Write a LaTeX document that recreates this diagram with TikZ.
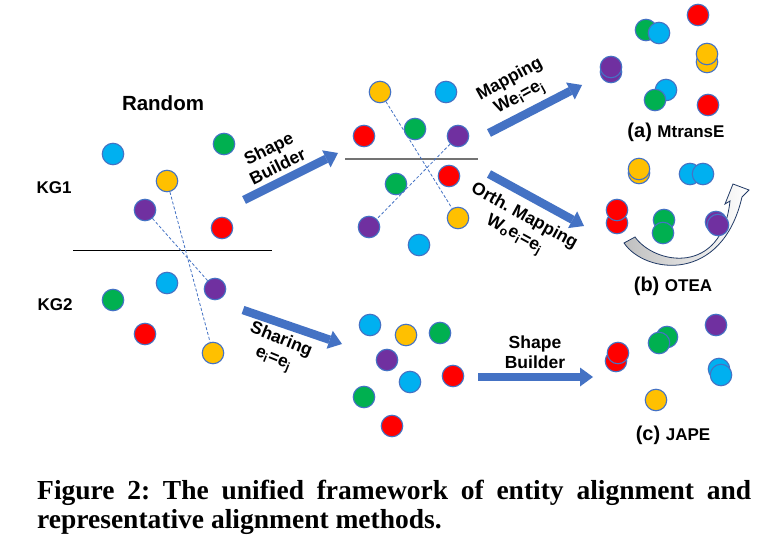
\documentclass[tikz,border=0pt]{standalone}
\usepackage{fontspec}
\setmainfont{Liberation Sans}
\newfontfamily\capfont{Liberation Serif}
\usetikzlibrary{arrows.meta}
\definecolor{cb}{HTML}{00B0F0}
\definecolor{cg}{HTML}{00B050}
\definecolor{cy}{HTML}{FFC000}
\definecolor{cp}{HTML}{7030A0}
\definecolor{cr}{HTML}{FF0000}
\definecolor{edgeblue}{HTML}{4472C4}
\definecolor{arrowblue}{HTML}{4472C4}
\definecolor{navy}{HTML}{1F3864}
\tikzset{
  ent/.style={circle, minimum size=21.5pt, inner sep=0pt, draw=edgeblue, line width=1.1pt},
  eb/.style={ent, fill=cb}, eg/.style={ent, fill=cg}, ey/.style={ent, fill=cy},
  ep/.style={ent, fill=cp}, er/.style={ent, fill=cr},
  link/.style={dashed, draw=edgeblue, line width=0.8pt, dash pattern=on 3pt off 2pt},
  fat/.style={line width=8.5pt, draw=arrowblue, -{Triangle[length=13pt,width=19pt,line width=0pt]}},
  lbl/.style={font=\fontsize{17.5}{20}\selectfont\bfseries, align=center, inner sep=0pt},
  grp/.style={font=\fontsize{17}{19}\selectfont\bfseries, inner sep=0pt},
  meth/.style={inner sep=0pt},
}
\begin{document}
\frenchspacing
\begin{tikzpicture}[x=1pt,y=-1pt]
\useasboundingbox (0,0) rectangle (769,556);
\fill[white] (0,0) rectangle (769,556);

% ---------- left panel ----------
\node[font=\fontsize{20.5}{22}\selectfont\bfseries, inner sep=0pt] (random) at (163,103) {Random};
\node[grp] (kg1) at (54,188) {KG1};
\node[grp] (kg2) at (55,305) {KG2};
\coordinate (sepLa) at (73,251);
\coordinate (sepLb) at (272,251);
\draw[line width=1pt] (sepLa) -- (sepLb);

\node[eb] (L1b) at (113,154) {};
\node[eg] (L1g) at (224,144) {};
\node[ey] (L1y) at (167,181) {};
\node[ep] (L1p) at (145,210) {};
\node[er] (L1r) at (222,228) {};
\node[eb] (L2b) at (167,283) {};
\node[ep] (L2p) at (215,289) {};
\node[eg] (L2g) at (113,300) {};
\node[er] (L2r) at (145,334) {};
\node[ey] (L2y) at (213,353) {};
\draw[link] (L1y) -- (L2y);
\draw[link] (L1p) -- (L2p);

% ---------- middle top ----------
\coordinate (sepMa) at (345,159);
\coordinate (sepMb) at (478,159);
\draw[line width=1.3pt, draw=black!55] (sepMa) -- (sepMb);
\node[ey] (M1y) at (380,92) {};
\node[eb] (M1b) at (446,92) {};
\node[er] (M1r) at (364,136) {};
\node[eg] (M1g) at (415,129) {};
\node[ep] (M1p) at (458,136) {};
\node[er] (M2r) at (449,176) {};
\node[eg] (M2g) at (396,184) {};
\node[ey] (M2y) at (458,218) {};
\node[ep] (M2p) at (369,227) {};
\node[eb] (M2b) at (419,245) {};
\draw[link] (M1y) -- (M2y);
\draw[link] (M1p) -- (M2p);

% ---------- middle bottom ----------
\node[eb] (S1) at (370,325) {};
\node[ey] (S2) at (406,335) {};
\node[eg] (S3) at (440,333) {};
\node[ep] (S4) at (387,360) {};
\node[eb] (S5) at (410,382) {};
\node[er] (S6) at (453,376) {};
\node[eg] (S7) at (364,397) {};
\node[er] (S8) at (392,426) {};

% ---------- (a) MtransE ----------
\node[er] (A1) at (698,15) {};
\node[eg] (A2) at (646,30) {};
\node[eb] (A3) at (659,33) {};
\node[ey] (A4) at (707,62) {};
\node[ey] (A5) at (707,54) {};
\node[ep] (A6) at (611,72) {};
\node[ep] (A7) at (611,67) {};
\node[eb] (A8) at (666,90) {};
\node[eg] (A9) at (655,100) {};
\node[er] (A10) at (708,105) {};
\node[meth] (capA) at (676,132) {\fontsize{20}{22}\selectfont\bfseries (a) \fontsize{17}{20}\selectfont MtransE};

% ---------- (b) OTEA ----------
\shade[left color=black!25, right color=white, draw=navy, line width=0.8pt]
  (624,243) -- (635,237)
  .. controls (655,265) and (722,276) .. (730,201)
  -- (725,204) -- (733,184) -- (749,190) -- (742,197)
  .. controls (722,284) and (645,274) .. (624,243) -- cycle;
\node[ey] (B1) at (639,173) {};
\node[ey] (B2) at (639,169) {};
\node[eb] (B3) at (690,174) {};
\node[eb] (B4) at (703,174) {};
\node[er] (B5) at (617,223) {};
\node[er] (B6) at (617,210) {};
\node[eg] (B7) at (664,220) {};
\node[eg] (B8) at (663,233) {};
\node[ep] (B9) at (716,222) {};
\node[ep] (B10) at (718,225) {};
\node[meth] (capB) at (673,286) {\fontsize{20}{22}\selectfont\bfseries (b) \fontsize{17}{20}\selectfont OTEA};

% ---------- (c) JAPE ----------
\node[er] (C1) at (616,361) {};
\node[er] (C2) at (618,353) {};
\node[eg] (C3) at (667,337) {};
\node[eg] (C4) at (659,343) {};
\node[ep] (C5) at (716,325) {};
\node[eb] (C6) at (719,369) {};
\node[eb] (C7) at (721,375) {};
\node[ey] (C8) at (656,400) {};
\node[meth] (capC) at (673,435) {\fontsize{20}{22}\selectfont\bfseries (c) \fontsize{17}{20}\selectfont JAPE};

% ---------- fat arrows ----------
\coordinate (f1s) at (244,200); \coordinate (f1e) at (338,153);
\coordinate (f2s) at (489,133); \coordinate (f2e) at (582,85);
\coordinate (f3s) at (489,174); \coordinate (f3e) at (584,226);
\coordinate (f4s) at (243,310); \coordinate (f4e) at (342,344);
\coordinate (f5s) at (478,377); \coordinate (f5e) at (593,377);
\draw[fat] (f1s) -- (f1e);
\draw[fat] (f2s) -- (f2e);
\draw[fat] (f3s) -- (f3e);
\draw[fat] (f4s) -- (f4e);
\draw[fat] (f5s) -- (f5e);

\node[lbl, rotate=26.6] (t1) at (273,157) {Shape\\Builder};
\node[lbl, rotate=28.7] (t2) at (515,89) {Mapping\\We\textsubscript{i}=e\textsubscript{j}};
\node[lbl, rotate=-28.7] (t3) at (519,226) {Orth. Mapping\\W\textsubscript{o}e\textsubscript{i}=e\textsubscript{j}};
\node[lbl, rotate=-22] (t4) at (277,350) {Sharing\\e\textsubscript{i}=e\textsubscript{j}};
\node[lbl] (t5) at (535,352) {Shape\\Builder};

% ---------- caption ----------
\node[anchor=base west, inner sep=0pt] (cap1) at (37,499)
  {\capfont\bfseries\fontsize{27.5}{30}\selectfont\makebox[714pt][s]{Figure 2: The unified framework of entity alignment and}};
\node[anchor=base west, inner sep=0pt] (cap2) at (37,528)
  {\capfont\bfseries\fontsize{27.5}{30}\selectfont representative alignment methods.};
\end{tikzpicture}
\end{document}
